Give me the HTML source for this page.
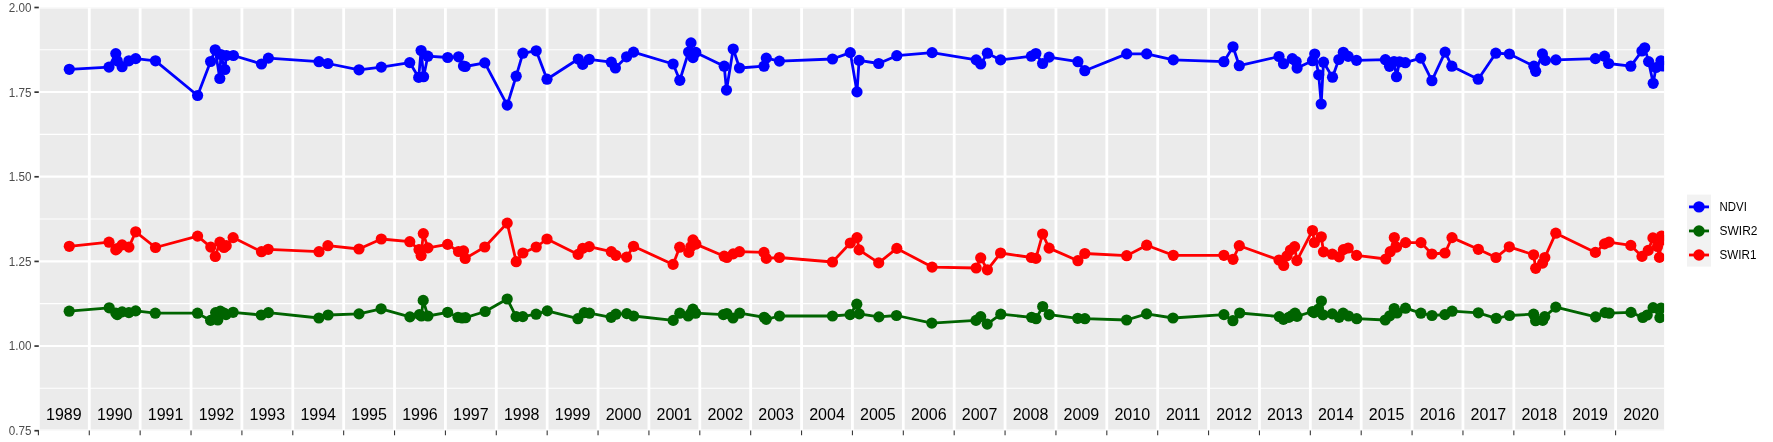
<!DOCTYPE html><html><head><meta charset="utf-8"><style>html,body{margin:0;padding:0;background:#fff;}svg{display:block}text{font-family:"Liberation Sans",sans-serif}</style></head><body><div style="will-change:transform">
<svg width="1773" height="442" viewBox="0 0 1773 442">
<rect x="0" y="0" width="1773" height="442" fill="#fff"/>
<rect x="38.0" y="7.4" width="1626.1" height="423.20000000000005" fill="#EBEBEB"/>
<clipPath id="cp"><rect x="38.0" y="7.4" width="1626.1" height="423.20000000000005"/></clipPath>
<g clip-path="url(#cp)">
<line x1="38.0" x2="1664.1" y1="49.72" y2="49.72" stroke="#fff" stroke-width="1.07"/>
<line x1="38.0" x2="1664.1" y1="134.36" y2="134.36" stroke="#fff" stroke-width="1.07"/>
<line x1="38.0" x2="1664.1" y1="219.00" y2="219.00" stroke="#fff" stroke-width="1.07"/>
<line x1="38.0" x2="1664.1" y1="303.64" y2="303.64" stroke="#fff" stroke-width="1.07"/>
<line x1="38.0" x2="1664.1" y1="388.28" y2="388.28" stroke="#fff" stroke-width="1.07"/>
<line x1="38.0" x2="1664.1" y1="7.40" y2="7.40" stroke="#fff" stroke-width="2.13"/>
<line x1="38.0" x2="1664.1" y1="92.04" y2="92.04" stroke="#fff" stroke-width="2.13"/>
<line x1="38.0" x2="1664.1" y1="176.68" y2="176.68" stroke="#fff" stroke-width="2.13"/>
<line x1="38.0" x2="1664.1" y1="261.32" y2="261.32" stroke="#fff" stroke-width="2.13"/>
<line x1="38.0" x2="1664.1" y1="345.96" y2="345.96" stroke="#fff" stroke-width="2.13"/>
<line x1="38.0" x2="1664.1" y1="430.60" y2="430.60" stroke="#fff" stroke-width="2.13"/>
<line x1="38.40" x2="38.40" y1="7.4" y2="430.6" stroke="#fff" stroke-width="2.8"/>
<line x1="89.28" x2="89.28" y1="7.4" y2="430.6" stroke="#fff" stroke-width="2.8"/>
<line x1="140.15" x2="140.15" y1="7.4" y2="430.6" stroke="#fff" stroke-width="2.8"/>
<line x1="191.03" x2="191.03" y1="7.4" y2="430.6" stroke="#fff" stroke-width="2.8"/>
<line x1="241.91" x2="241.91" y1="7.4" y2="430.6" stroke="#fff" stroke-width="2.8"/>
<line x1="292.79" x2="292.79" y1="7.4" y2="430.6" stroke="#fff" stroke-width="2.8"/>
<line x1="343.66" x2="343.66" y1="7.4" y2="430.6" stroke="#fff" stroke-width="2.8"/>
<line x1="394.54" x2="394.54" y1="7.4" y2="430.6" stroke="#fff" stroke-width="2.8"/>
<line x1="445.42" x2="445.42" y1="7.4" y2="430.6" stroke="#fff" stroke-width="2.8"/>
<line x1="496.29" x2="496.29" y1="7.4" y2="430.6" stroke="#fff" stroke-width="2.8"/>
<line x1="547.17" x2="547.17" y1="7.4" y2="430.6" stroke="#fff" stroke-width="2.8"/>
<line x1="598.05" x2="598.05" y1="7.4" y2="430.6" stroke="#fff" stroke-width="2.8"/>
<line x1="648.92" x2="648.92" y1="7.4" y2="430.6" stroke="#fff" stroke-width="2.8"/>
<line x1="699.80" x2="699.80" y1="7.4" y2="430.6" stroke="#fff" stroke-width="2.8"/>
<line x1="750.68" x2="750.68" y1="7.4" y2="430.6" stroke="#fff" stroke-width="2.8"/>
<line x1="801.56" x2="801.56" y1="7.4" y2="430.6" stroke="#fff" stroke-width="2.8"/>
<line x1="852.43" x2="852.43" y1="7.4" y2="430.6" stroke="#fff" stroke-width="2.8"/>
<line x1="903.31" x2="903.31" y1="7.4" y2="430.6" stroke="#fff" stroke-width="2.8"/>
<line x1="954.19" x2="954.19" y1="7.4" y2="430.6" stroke="#fff" stroke-width="2.8"/>
<line x1="1005.06" x2="1005.06" y1="7.4" y2="430.6" stroke="#fff" stroke-width="2.8"/>
<line x1="1055.94" x2="1055.94" y1="7.4" y2="430.6" stroke="#fff" stroke-width="2.8"/>
<line x1="1106.82" x2="1106.82" y1="7.4" y2="430.6" stroke="#fff" stroke-width="2.8"/>
<line x1="1157.69" x2="1157.69" y1="7.4" y2="430.6" stroke="#fff" stroke-width="2.8"/>
<line x1="1208.57" x2="1208.57" y1="7.4" y2="430.6" stroke="#fff" stroke-width="2.8"/>
<line x1="1259.45" x2="1259.45" y1="7.4" y2="430.6" stroke="#fff" stroke-width="2.8"/>
<line x1="1310.33" x2="1310.33" y1="7.4" y2="430.6" stroke="#fff" stroke-width="2.8"/>
<line x1="1361.20" x2="1361.20" y1="7.4" y2="430.6" stroke="#fff" stroke-width="2.8"/>
<line x1="1412.08" x2="1412.08" y1="7.4" y2="430.6" stroke="#fff" stroke-width="2.8"/>
<line x1="1462.96" x2="1462.96" y1="7.4" y2="430.6" stroke="#fff" stroke-width="2.8"/>
<line x1="1513.83" x2="1513.83" y1="7.4" y2="430.6" stroke="#fff" stroke-width="2.8"/>
<line x1="1564.71" x2="1564.71" y1="7.4" y2="430.6" stroke="#fff" stroke-width="2.8"/>
<line x1="1615.59" x2="1615.59" y1="7.4" y2="430.6" stroke="#fff" stroke-width="2.8"/>
<line x1="1666.46" x2="1666.46" y1="7.4" y2="430.6" stroke="#fff" stroke-width="2.8"/>
</g>
<line x1="34.4" x2="38.8" y1="7.50" y2="7.50" stroke="#333" stroke-width="1.7"/>
<text x="31.4" y="11.90" font-size="12.5" fill="#4D4D4D" text-anchor="end" textLength="22.7" lengthAdjust="spacingAndGlyphs">2.00</text>
<line x1="34.4" x2="38.8" y1="92.14" y2="92.14" stroke="#333" stroke-width="1.7"/>
<text x="31.4" y="96.54" font-size="12.5" fill="#4D4D4D" text-anchor="end" textLength="22.7" lengthAdjust="spacingAndGlyphs">1.75</text>
<line x1="34.4" x2="38.8" y1="176.78" y2="176.78" stroke="#333" stroke-width="1.7"/>
<text x="31.4" y="181.18" font-size="12.5" fill="#4D4D4D" text-anchor="end" textLength="22.7" lengthAdjust="spacingAndGlyphs">1.50</text>
<line x1="34.4" x2="38.8" y1="261.42" y2="261.42" stroke="#333" stroke-width="1.7"/>
<text x="31.4" y="265.82" font-size="12.5" fill="#4D4D4D" text-anchor="end" textLength="22.7" lengthAdjust="spacingAndGlyphs">1.25</text>
<line x1="34.4" x2="38.8" y1="346.06" y2="346.06" stroke="#333" stroke-width="1.7"/>
<text x="31.4" y="350.46" font-size="12.5" fill="#4D4D4D" text-anchor="end" textLength="22.7" lengthAdjust="spacingAndGlyphs">1.00</text>
<line x1="34.4" x2="38.8" y1="430.70" y2="430.70" stroke="#333" stroke-width="1.7"/>
<text x="31.4" y="435.10" font-size="12.5" fill="#4D4D4D" text-anchor="end" textLength="22.7" lengthAdjust="spacingAndGlyphs">0.75</text>
<line x1="38.40" x2="38.40" y1="430.6" y2="435.30" stroke="#333" stroke-width="1.07"/>
<line x1="89.28" x2="89.28" y1="430.6" y2="435.30" stroke="#333" stroke-width="1.07"/>
<line x1="140.15" x2="140.15" y1="430.6" y2="435.30" stroke="#333" stroke-width="1.07"/>
<line x1="191.03" x2="191.03" y1="430.6" y2="435.30" stroke="#333" stroke-width="1.07"/>
<line x1="241.91" x2="241.91" y1="430.6" y2="435.30" stroke="#333" stroke-width="1.07"/>
<line x1="292.79" x2="292.79" y1="430.6" y2="435.30" stroke="#333" stroke-width="1.07"/>
<line x1="343.66" x2="343.66" y1="430.6" y2="435.30" stroke="#333" stroke-width="1.07"/>
<line x1="394.54" x2="394.54" y1="430.6" y2="435.30" stroke="#333" stroke-width="1.07"/>
<line x1="445.42" x2="445.42" y1="430.6" y2="435.30" stroke="#333" stroke-width="1.07"/>
<line x1="496.29" x2="496.29" y1="430.6" y2="435.30" stroke="#333" stroke-width="1.07"/>
<line x1="547.17" x2="547.17" y1="430.6" y2="435.30" stroke="#333" stroke-width="1.07"/>
<line x1="598.05" x2="598.05" y1="430.6" y2="435.30" stroke="#333" stroke-width="1.07"/>
<line x1="648.92" x2="648.92" y1="430.6" y2="435.30" stroke="#333" stroke-width="1.07"/>
<line x1="699.80" x2="699.80" y1="430.6" y2="435.30" stroke="#333" stroke-width="1.07"/>
<line x1="750.68" x2="750.68" y1="430.6" y2="435.30" stroke="#333" stroke-width="1.07"/>
<line x1="801.56" x2="801.56" y1="430.6" y2="435.30" stroke="#333" stroke-width="1.07"/>
<line x1="852.43" x2="852.43" y1="430.6" y2="435.30" stroke="#333" stroke-width="1.07"/>
<line x1="903.31" x2="903.31" y1="430.6" y2="435.30" stroke="#333" stroke-width="1.07"/>
<line x1="954.19" x2="954.19" y1="430.6" y2="435.30" stroke="#333" stroke-width="1.07"/>
<line x1="1005.06" x2="1005.06" y1="430.6" y2="435.30" stroke="#333" stroke-width="1.07"/>
<line x1="1055.94" x2="1055.94" y1="430.6" y2="435.30" stroke="#333" stroke-width="1.07"/>
<line x1="1106.82" x2="1106.82" y1="430.6" y2="435.30" stroke="#333" stroke-width="1.07"/>
<line x1="1157.69" x2="1157.69" y1="430.6" y2="435.30" stroke="#333" stroke-width="1.07"/>
<line x1="1208.57" x2="1208.57" y1="430.6" y2="435.30" stroke="#333" stroke-width="1.07"/>
<line x1="1259.45" x2="1259.45" y1="430.6" y2="435.30" stroke="#333" stroke-width="1.07"/>
<line x1="1310.33" x2="1310.33" y1="430.6" y2="435.30" stroke="#333" stroke-width="1.07"/>
<line x1="1361.20" x2="1361.20" y1="430.6" y2="435.30" stroke="#333" stroke-width="1.07"/>
<line x1="1412.08" x2="1412.08" y1="430.6" y2="435.30" stroke="#333" stroke-width="1.07"/>
<line x1="1462.96" x2="1462.96" y1="430.6" y2="435.30" stroke="#333" stroke-width="1.07"/>
<line x1="1513.83" x2="1513.83" y1="430.6" y2="435.30" stroke="#333" stroke-width="1.07"/>
<line x1="1564.71" x2="1564.71" y1="430.6" y2="435.30" stroke="#333" stroke-width="1.07"/>
<line x1="1615.59" x2="1615.59" y1="430.6" y2="435.30" stroke="#333" stroke-width="1.07"/>
<text x="63.84" y="420" font-size="16" fill="#000" text-anchor="middle">1989</text>
<text x="114.72" y="420" font-size="16" fill="#000" text-anchor="middle">1990</text>
<text x="165.59" y="420" font-size="16" fill="#000" text-anchor="middle">1991</text>
<text x="216.47" y="420" font-size="16" fill="#000" text-anchor="middle">1992</text>
<text x="267.35" y="420" font-size="16" fill="#000" text-anchor="middle">1993</text>
<text x="318.22" y="420" font-size="16" fill="#000" text-anchor="middle">1994</text>
<text x="369.10" y="420" font-size="16" fill="#000" text-anchor="middle">1995</text>
<text x="419.98" y="420" font-size="16" fill="#000" text-anchor="middle">1996</text>
<text x="470.85" y="420" font-size="16" fill="#000" text-anchor="middle">1997</text>
<text x="521.73" y="420" font-size="16" fill="#000" text-anchor="middle">1998</text>
<text x="572.61" y="420" font-size="16" fill="#000" text-anchor="middle">1999</text>
<text x="623.49" y="420" font-size="16" fill="#000" text-anchor="middle">2000</text>
<text x="674.36" y="420" font-size="16" fill="#000" text-anchor="middle">2001</text>
<text x="725.24" y="420" font-size="16" fill="#000" text-anchor="middle">2002</text>
<text x="776.12" y="420" font-size="16" fill="#000" text-anchor="middle">2003</text>
<text x="826.99" y="420" font-size="16" fill="#000" text-anchor="middle">2004</text>
<text x="877.87" y="420" font-size="16" fill="#000" text-anchor="middle">2005</text>
<text x="928.75" y="420" font-size="16" fill="#000" text-anchor="middle">2006</text>
<text x="979.62" y="420" font-size="16" fill="#000" text-anchor="middle">2007</text>
<text x="1030.50" y="420" font-size="16" fill="#000" text-anchor="middle">2008</text>
<text x="1081.38" y="420" font-size="16" fill="#000" text-anchor="middle">2009</text>
<text x="1132.26" y="420" font-size="16" fill="#000" text-anchor="middle">2010</text>
<text x="1183.13" y="420" font-size="16" fill="#000" text-anchor="middle">2011</text>
<text x="1234.01" y="420" font-size="16" fill="#000" text-anchor="middle">2012</text>
<text x="1284.89" y="420" font-size="16" fill="#000" text-anchor="middle">2013</text>
<text x="1335.76" y="420" font-size="16" fill="#000" text-anchor="middle">2014</text>
<text x="1386.64" y="420" font-size="16" fill="#000" text-anchor="middle">2015</text>
<text x="1437.52" y="420" font-size="16" fill="#000" text-anchor="middle">2016</text>
<text x="1488.39" y="420" font-size="16" fill="#000" text-anchor="middle">2017</text>
<text x="1539.27" y="420" font-size="16" fill="#000" text-anchor="middle">2018</text>
<text x="1590.15" y="420" font-size="16" fill="#000" text-anchor="middle">2019</text>
<text x="1641.03" y="420" font-size="16" fill="#000" text-anchor="middle">2020</text>
<g clip-path="url(#cp)"><polyline points="69.2,311.2 109.2,307.8 115.8,313.0 117.3,314.6 122.1,311.9 128.9,312.6 135.7,310.9 155.3,313.2 197.5,313.2 210.6,320.4 215.6,312.6 217.8,320.0 220.3,311.2 224.0,313.0 226.0,314.6 233.1,312.3 261.2,315.0 268.4,312.6 318.9,318.0 328.1,315.0 359.0,313.9 381.1,308.8 409.9,316.9 419.4,314.6 421.4,316.0 423.2,300.4 427.9,316.0 447.6,312.3 458.0,317.3 462.1,318.0 465.5,317.7 485.2,311.5 507.2,299.0 516.1,316.6 522.8,316.6 536.1,314.2 547.3,310.9 577.9,318.7 584.3,312.6 589.5,313.2 611.2,317.3 615.9,314.2 626.8,313.6 633.6,316.0 673.2,320.4 679.8,313.2 688.2,316.0 691.0,313.0 692.9,309.2 695.6,313.2 723.4,314.6 726.8,313.5 733.0,318.0 739.7,313.2 764.2,317.3 766.2,319.3 779.5,316.0 832.5,316.0 850.1,314.6 856.8,304.2 859.2,313.9 878.9,316.9 896.5,315.5 931.8,323.1 976.0,320.4 980.7,316.6 987.2,324.1 1000.8,314.2 1031.6,317.3 1036.1,318.7 1042.7,306.5 1049.2,314.6 1077.7,318.3 1084.9,318.7 1126.6,320.0 1146.6,313.9 1173.0,318.0 1223.9,314.6 1232.9,320.7 1239.7,313.0 1279.3,316.6 1283.4,319.3 1288.8,317.3 1292.0,315.5 1295.0,313.2 1297.0,316.4 1312.5,311.5 1314.0,312.6 1318.5,309.0 1321.4,301.0 1323.0,314.8 1332.3,313.9 1339.1,317.3 1343.1,313.2 1348.5,316.0 1356.7,318.7 1385.2,320.0 1389.8,315.8 1394.2,308.5 1397.0,313.0 1405.5,308.2 1420.9,313.2 1432.0,315.5 1444.9,314.6 1452.1,311.2 1478.3,312.8 1496.2,318.3 1509.5,315.5 1533.6,314.2 1535.6,320.7 1542.7,320.4 1544.7,316.6 1555.8,307.1 1595.6,316.9 1605.1,312.6 1609.2,313.2 1631.0,312.4 1642.8,317.5 1647.2,315.0 1653.1,307.7 1659.9,317.6 1661.1,308.0" fill="none" stroke="#006400" stroke-width="2.8" stroke-linejoin="round"/><circle cx="69.2" cy="311.2" r="5.6" fill="#006400"/><circle cx="109.2" cy="307.8" r="5.6" fill="#006400"/><circle cx="115.8" cy="313.0" r="5.6" fill="#006400"/><circle cx="117.3" cy="314.6" r="5.6" fill="#006400"/><circle cx="122.1" cy="311.9" r="5.6" fill="#006400"/><circle cx="128.9" cy="312.6" r="5.6" fill="#006400"/><circle cx="135.7" cy="310.9" r="5.6" fill="#006400"/><circle cx="155.3" cy="313.2" r="5.6" fill="#006400"/><circle cx="197.5" cy="313.2" r="5.6" fill="#006400"/><circle cx="210.6" cy="320.4" r="5.6" fill="#006400"/><circle cx="215.6" cy="312.6" r="5.6" fill="#006400"/><circle cx="217.8" cy="320.0" r="5.6" fill="#006400"/><circle cx="220.3" cy="311.2" r="5.6" fill="#006400"/><circle cx="224.0" cy="313.0" r="5.6" fill="#006400"/><circle cx="226.0" cy="314.6" r="5.6" fill="#006400"/><circle cx="233.1" cy="312.3" r="5.6" fill="#006400"/><circle cx="261.2" cy="315.0" r="5.6" fill="#006400"/><circle cx="268.4" cy="312.6" r="5.6" fill="#006400"/><circle cx="318.9" cy="318.0" r="5.6" fill="#006400"/><circle cx="328.1" cy="315.0" r="5.6" fill="#006400"/><circle cx="359.0" cy="313.9" r="5.6" fill="#006400"/><circle cx="381.1" cy="308.8" r="5.6" fill="#006400"/><circle cx="409.9" cy="316.9" r="5.6" fill="#006400"/><circle cx="419.4" cy="314.6" r="5.6" fill="#006400"/><circle cx="421.4" cy="316.0" r="5.6" fill="#006400"/><circle cx="423.2" cy="300.4" r="5.6" fill="#006400"/><circle cx="427.9" cy="316.0" r="5.6" fill="#006400"/><circle cx="447.6" cy="312.3" r="5.6" fill="#006400"/><circle cx="458.0" cy="317.3" r="5.6" fill="#006400"/><circle cx="462.1" cy="318.0" r="5.6" fill="#006400"/><circle cx="465.5" cy="317.7" r="5.6" fill="#006400"/><circle cx="485.2" cy="311.5" r="5.6" fill="#006400"/><circle cx="507.2" cy="299.0" r="5.6" fill="#006400"/><circle cx="516.1" cy="316.6" r="5.6" fill="#006400"/><circle cx="522.8" cy="316.6" r="5.6" fill="#006400"/><circle cx="536.1" cy="314.2" r="5.6" fill="#006400"/><circle cx="547.3" cy="310.9" r="5.6" fill="#006400"/><circle cx="577.9" cy="318.7" r="5.6" fill="#006400"/><circle cx="584.3" cy="312.6" r="5.6" fill="#006400"/><circle cx="589.5" cy="313.2" r="5.6" fill="#006400"/><circle cx="611.2" cy="317.3" r="5.6" fill="#006400"/><circle cx="615.9" cy="314.2" r="5.6" fill="#006400"/><circle cx="626.8" cy="313.6" r="5.6" fill="#006400"/><circle cx="633.6" cy="316.0" r="5.6" fill="#006400"/><circle cx="673.2" cy="320.4" r="5.6" fill="#006400"/><circle cx="679.8" cy="313.2" r="5.6" fill="#006400"/><circle cx="688.2" cy="316.0" r="5.6" fill="#006400"/><circle cx="691.0" cy="313.0" r="5.6" fill="#006400"/><circle cx="692.9" cy="309.2" r="5.6" fill="#006400"/><circle cx="695.6" cy="313.2" r="5.6" fill="#006400"/><circle cx="723.4" cy="314.6" r="5.6" fill="#006400"/><circle cx="726.8" cy="313.5" r="5.6" fill="#006400"/><circle cx="733.0" cy="318.0" r="5.6" fill="#006400"/><circle cx="739.7" cy="313.2" r="5.6" fill="#006400"/><circle cx="764.2" cy="317.3" r="5.6" fill="#006400"/><circle cx="766.2" cy="319.3" r="5.6" fill="#006400"/><circle cx="779.5" cy="316.0" r="5.6" fill="#006400"/><circle cx="832.5" cy="316.0" r="5.6" fill="#006400"/><circle cx="850.1" cy="314.6" r="5.6" fill="#006400"/><circle cx="856.8" cy="304.2" r="5.6" fill="#006400"/><circle cx="859.2" cy="313.9" r="5.6" fill="#006400"/><circle cx="878.9" cy="316.9" r="5.6" fill="#006400"/><circle cx="896.5" cy="315.5" r="5.6" fill="#006400"/><circle cx="931.8" cy="323.1" r="5.6" fill="#006400"/><circle cx="976.0" cy="320.4" r="5.6" fill="#006400"/><circle cx="980.7" cy="316.6" r="5.6" fill="#006400"/><circle cx="987.2" cy="324.1" r="5.6" fill="#006400"/><circle cx="1000.8" cy="314.2" r="5.6" fill="#006400"/><circle cx="1031.6" cy="317.3" r="5.6" fill="#006400"/><circle cx="1036.1" cy="318.7" r="5.6" fill="#006400"/><circle cx="1042.7" cy="306.5" r="5.6" fill="#006400"/><circle cx="1049.2" cy="314.6" r="5.6" fill="#006400"/><circle cx="1077.7" cy="318.3" r="5.6" fill="#006400"/><circle cx="1084.9" cy="318.7" r="5.6" fill="#006400"/><circle cx="1126.6" cy="320.0" r="5.6" fill="#006400"/><circle cx="1146.6" cy="313.9" r="5.6" fill="#006400"/><circle cx="1173.0" cy="318.0" r="5.6" fill="#006400"/><circle cx="1223.9" cy="314.6" r="5.6" fill="#006400"/><circle cx="1232.9" cy="320.7" r="5.6" fill="#006400"/><circle cx="1239.7" cy="313.0" r="5.6" fill="#006400"/><circle cx="1279.3" cy="316.6" r="5.6" fill="#006400"/><circle cx="1283.4" cy="319.3" r="5.6" fill="#006400"/><circle cx="1288.8" cy="317.3" r="5.6" fill="#006400"/><circle cx="1292.0" cy="315.5" r="5.6" fill="#006400"/><circle cx="1295.0" cy="313.2" r="5.6" fill="#006400"/><circle cx="1297.0" cy="316.4" r="5.6" fill="#006400"/><circle cx="1312.5" cy="311.5" r="5.6" fill="#006400"/><circle cx="1314.0" cy="312.6" r="5.6" fill="#006400"/><circle cx="1318.5" cy="309.0" r="5.6" fill="#006400"/><circle cx="1321.4" cy="301.0" r="5.6" fill="#006400"/><circle cx="1323.0" cy="314.8" r="5.6" fill="#006400"/><circle cx="1332.3" cy="313.9" r="5.6" fill="#006400"/><circle cx="1339.1" cy="317.3" r="5.6" fill="#006400"/><circle cx="1343.1" cy="313.2" r="5.6" fill="#006400"/><circle cx="1348.5" cy="316.0" r="5.6" fill="#006400"/><circle cx="1356.7" cy="318.7" r="5.6" fill="#006400"/><circle cx="1385.2" cy="320.0" r="5.6" fill="#006400"/><circle cx="1389.8" cy="315.8" r="5.6" fill="#006400"/><circle cx="1394.2" cy="308.5" r="5.6" fill="#006400"/><circle cx="1397.0" cy="313.0" r="5.6" fill="#006400"/><circle cx="1405.5" cy="308.2" r="5.6" fill="#006400"/><circle cx="1420.9" cy="313.2" r="5.6" fill="#006400"/><circle cx="1432.0" cy="315.5" r="5.6" fill="#006400"/><circle cx="1444.9" cy="314.6" r="5.6" fill="#006400"/><circle cx="1452.1" cy="311.2" r="5.6" fill="#006400"/><circle cx="1478.3" cy="312.8" r="5.6" fill="#006400"/><circle cx="1496.2" cy="318.3" r="5.6" fill="#006400"/><circle cx="1509.5" cy="315.5" r="5.6" fill="#006400"/><circle cx="1533.6" cy="314.2" r="5.6" fill="#006400"/><circle cx="1535.6" cy="320.7" r="5.6" fill="#006400"/><circle cx="1542.7" cy="320.4" r="5.6" fill="#006400"/><circle cx="1544.7" cy="316.6" r="5.6" fill="#006400"/><circle cx="1555.8" cy="307.1" r="5.6" fill="#006400"/><circle cx="1595.6" cy="316.9" r="5.6" fill="#006400"/><circle cx="1605.1" cy="312.6" r="5.6" fill="#006400"/><circle cx="1609.2" cy="313.2" r="5.6" fill="#006400"/><circle cx="1631.0" cy="312.4" r="5.6" fill="#006400"/><circle cx="1642.8" cy="317.5" r="5.6" fill="#006400"/><circle cx="1647.2" cy="315.0" r="5.6" fill="#006400"/><circle cx="1653.1" cy="307.7" r="5.6" fill="#006400"/><circle cx="1659.9" cy="317.6" r="5.6" fill="#006400"/><circle cx="1661.1" cy="308.0" r="5.6" fill="#006400"/><polyline points="69.3,246.3 109.0,242.2 115.8,249.9 117.2,248.5 122.1,244.9 128.9,247.1 135.7,231.8 155.5,247.5 197.6,236.1 210.8,247.1 215.3,256.5 219.9,242.1 224.0,247.5 226.2,245.7 233.1,237.6 261.5,251.7 268.2,249.3 319.0,251.7 327.9,245.7 359.0,249.0 381.3,239.0 409.8,241.7 419.0,249.6 421.1,255.6 423.3,233.6 427.9,247.9 447.6,244.4 458.5,251.5 463.5,250.9 465.2,258.5 484.8,247.0 507.2,223.1 516.2,261.7 522.9,253.0 536.2,247.0 547.0,239.0 578.1,254.4 582.7,248.4 589.2,246.6 611.3,251.7 615.8,255.3 626.6,257.1 633.5,246.3 673.1,264.4 679.7,247.2 688.8,252.4 690.8,246.8 693.0,239.9 695.9,244.1 724.2,256.2 726.9,257.5 733.2,253.9 739.5,251.7 764.0,252.4 766.3,258.4 779.4,257.5 832.5,262.0 850.3,243.0 857.0,237.6 859.1,249.9 878.7,262.9 896.8,248.4 932.1,267.1 976.2,268.0 980.7,257.9 987.4,269.8 1000.6,253.0 1031.4,257.5 1035.9,258.4 1042.6,234.0 1049.1,248.1 1077.9,260.7 1084.8,253.5 1126.7,255.7 1146.7,245.2 1173.3,255.3 1223.9,255.3 1233.0,259.3 1239.3,245.7 1279.0,260.0 1283.7,265.5 1287.0,255.9 1290.5,250.0 1294.6,246.7 1296.9,260.6 1312.5,230.5 1314.4,242.5 1321.3,236.8 1323.5,251.8 1332.3,254.2 1339.1,256.9 1343.4,249.6 1348.2,248.0 1356.6,255.4 1385.8,259.0 1390.2,251.7 1394.3,237.5 1396.6,247.1 1405.6,242.6 1421.0,242.6 1431.9,254.0 1445.0,253.0 1452.0,237.6 1478.3,249.3 1496.0,257.5 1509.3,246.8 1533.6,254.8 1535.7,268.3 1542.6,263.1 1544.8,257.5 1555.8,233.2 1595.4,252.4 1604.5,243.9 1609.0,242.1 1630.8,245.4 1642.0,256.4 1648.2,250.4 1652.9,237.9 1657.5,246.5 1659.5,257.4 1661.4,236.2 1662.5,240.0" fill="none" stroke="#FF0000" stroke-width="2.8" stroke-linejoin="round"/><circle cx="69.3" cy="246.3" r="5.6" fill="#FF0000"/><circle cx="109.0" cy="242.2" r="5.6" fill="#FF0000"/><circle cx="115.8" cy="249.9" r="5.6" fill="#FF0000"/><circle cx="117.2" cy="248.5" r="5.6" fill="#FF0000"/><circle cx="122.1" cy="244.9" r="5.6" fill="#FF0000"/><circle cx="128.9" cy="247.1" r="5.6" fill="#FF0000"/><circle cx="135.7" cy="231.8" r="5.6" fill="#FF0000"/><circle cx="155.5" cy="247.5" r="5.6" fill="#FF0000"/><circle cx="197.6" cy="236.1" r="5.6" fill="#FF0000"/><circle cx="210.8" cy="247.1" r="5.6" fill="#FF0000"/><circle cx="215.3" cy="256.5" r="5.6" fill="#FF0000"/><circle cx="219.9" cy="242.1" r="5.6" fill="#FF0000"/><circle cx="224.0" cy="247.5" r="5.6" fill="#FF0000"/><circle cx="226.2" cy="245.7" r="5.6" fill="#FF0000"/><circle cx="233.1" cy="237.6" r="5.6" fill="#FF0000"/><circle cx="261.5" cy="251.7" r="5.6" fill="#FF0000"/><circle cx="268.2" cy="249.3" r="5.6" fill="#FF0000"/><circle cx="319.0" cy="251.7" r="5.6" fill="#FF0000"/><circle cx="327.9" cy="245.7" r="5.6" fill="#FF0000"/><circle cx="359.0" cy="249.0" r="5.6" fill="#FF0000"/><circle cx="381.3" cy="239.0" r="5.6" fill="#FF0000"/><circle cx="409.8" cy="241.7" r="5.6" fill="#FF0000"/><circle cx="419.0" cy="249.6" r="5.6" fill="#FF0000"/><circle cx="421.1" cy="255.6" r="5.6" fill="#FF0000"/><circle cx="423.3" cy="233.6" r="5.6" fill="#FF0000"/><circle cx="427.9" cy="247.9" r="5.6" fill="#FF0000"/><circle cx="447.6" cy="244.4" r="5.6" fill="#FF0000"/><circle cx="458.5" cy="251.5" r="5.6" fill="#FF0000"/><circle cx="463.5" cy="250.9" r="5.6" fill="#FF0000"/><circle cx="465.2" cy="258.5" r="5.6" fill="#FF0000"/><circle cx="484.8" cy="247.0" r="5.6" fill="#FF0000"/><circle cx="507.2" cy="223.1" r="5.6" fill="#FF0000"/><circle cx="516.2" cy="261.7" r="5.6" fill="#FF0000"/><circle cx="522.9" cy="253.0" r="5.6" fill="#FF0000"/><circle cx="536.2" cy="247.0" r="5.6" fill="#FF0000"/><circle cx="547.0" cy="239.0" r="5.6" fill="#FF0000"/><circle cx="578.1" cy="254.4" r="5.6" fill="#FF0000"/><circle cx="582.7" cy="248.4" r="5.6" fill="#FF0000"/><circle cx="589.2" cy="246.6" r="5.6" fill="#FF0000"/><circle cx="611.3" cy="251.7" r="5.6" fill="#FF0000"/><circle cx="615.8" cy="255.3" r="5.6" fill="#FF0000"/><circle cx="626.6" cy="257.1" r="5.6" fill="#FF0000"/><circle cx="633.5" cy="246.3" r="5.6" fill="#FF0000"/><circle cx="673.1" cy="264.4" r="5.6" fill="#FF0000"/><circle cx="679.7" cy="247.2" r="5.6" fill="#FF0000"/><circle cx="688.8" cy="252.4" r="5.6" fill="#FF0000"/><circle cx="690.8" cy="246.8" r="5.6" fill="#FF0000"/><circle cx="693.0" cy="239.9" r="5.6" fill="#FF0000"/><circle cx="695.9" cy="244.1" r="5.6" fill="#FF0000"/><circle cx="724.2" cy="256.2" r="5.6" fill="#FF0000"/><circle cx="726.9" cy="257.5" r="5.6" fill="#FF0000"/><circle cx="733.2" cy="253.9" r="5.6" fill="#FF0000"/><circle cx="739.5" cy="251.7" r="5.6" fill="#FF0000"/><circle cx="764.0" cy="252.4" r="5.6" fill="#FF0000"/><circle cx="766.3" cy="258.4" r="5.6" fill="#FF0000"/><circle cx="779.4" cy="257.5" r="5.6" fill="#FF0000"/><circle cx="832.5" cy="262.0" r="5.6" fill="#FF0000"/><circle cx="850.3" cy="243.0" r="5.6" fill="#FF0000"/><circle cx="857.0" cy="237.6" r="5.6" fill="#FF0000"/><circle cx="859.1" cy="249.9" r="5.6" fill="#FF0000"/><circle cx="878.7" cy="262.9" r="5.6" fill="#FF0000"/><circle cx="896.8" cy="248.4" r="5.6" fill="#FF0000"/><circle cx="932.1" cy="267.1" r="5.6" fill="#FF0000"/><circle cx="976.2" cy="268.0" r="5.6" fill="#FF0000"/><circle cx="980.7" cy="257.9" r="5.6" fill="#FF0000"/><circle cx="987.4" cy="269.8" r="5.6" fill="#FF0000"/><circle cx="1000.6" cy="253.0" r="5.6" fill="#FF0000"/><circle cx="1031.4" cy="257.5" r="5.6" fill="#FF0000"/><circle cx="1035.9" cy="258.4" r="5.6" fill="#FF0000"/><circle cx="1042.6" cy="234.0" r="5.6" fill="#FF0000"/><circle cx="1049.1" cy="248.1" r="5.6" fill="#FF0000"/><circle cx="1077.9" cy="260.7" r="5.6" fill="#FF0000"/><circle cx="1084.8" cy="253.5" r="5.6" fill="#FF0000"/><circle cx="1126.7" cy="255.7" r="5.6" fill="#FF0000"/><circle cx="1146.7" cy="245.2" r="5.6" fill="#FF0000"/><circle cx="1173.3" cy="255.3" r="5.6" fill="#FF0000"/><circle cx="1223.9" cy="255.3" r="5.6" fill="#FF0000"/><circle cx="1233.0" cy="259.3" r="5.6" fill="#FF0000"/><circle cx="1239.3" cy="245.7" r="5.6" fill="#FF0000"/><circle cx="1279.0" cy="260.0" r="5.6" fill="#FF0000"/><circle cx="1283.7" cy="265.5" r="5.6" fill="#FF0000"/><circle cx="1287.0" cy="255.9" r="5.6" fill="#FF0000"/><circle cx="1290.5" cy="250.0" r="5.6" fill="#FF0000"/><circle cx="1294.6" cy="246.7" r="5.6" fill="#FF0000"/><circle cx="1296.9" cy="260.6" r="5.6" fill="#FF0000"/><circle cx="1312.5" cy="230.5" r="5.6" fill="#FF0000"/><circle cx="1314.4" cy="242.5" r="5.6" fill="#FF0000"/><circle cx="1321.3" cy="236.8" r="5.6" fill="#FF0000"/><circle cx="1323.5" cy="251.8" r="5.6" fill="#FF0000"/><circle cx="1332.3" cy="254.2" r="5.6" fill="#FF0000"/><circle cx="1339.1" cy="256.9" r="5.6" fill="#FF0000"/><circle cx="1343.4" cy="249.6" r="5.6" fill="#FF0000"/><circle cx="1348.2" cy="248.0" r="5.6" fill="#FF0000"/><circle cx="1356.6" cy="255.4" r="5.6" fill="#FF0000"/><circle cx="1385.8" cy="259.0" r="5.6" fill="#FF0000"/><circle cx="1390.2" cy="251.7" r="5.6" fill="#FF0000"/><circle cx="1394.3" cy="237.5" r="5.6" fill="#FF0000"/><circle cx="1396.6" cy="247.1" r="5.6" fill="#FF0000"/><circle cx="1405.6" cy="242.6" r="5.6" fill="#FF0000"/><circle cx="1421.0" cy="242.6" r="5.6" fill="#FF0000"/><circle cx="1431.9" cy="254.0" r="5.6" fill="#FF0000"/><circle cx="1445.0" cy="253.0" r="5.6" fill="#FF0000"/><circle cx="1452.0" cy="237.6" r="5.6" fill="#FF0000"/><circle cx="1478.3" cy="249.3" r="5.6" fill="#FF0000"/><circle cx="1496.0" cy="257.5" r="5.6" fill="#FF0000"/><circle cx="1509.3" cy="246.8" r="5.6" fill="#FF0000"/><circle cx="1533.6" cy="254.8" r="5.6" fill="#FF0000"/><circle cx="1535.7" cy="268.3" r="5.6" fill="#FF0000"/><circle cx="1542.6" cy="263.1" r="5.6" fill="#FF0000"/><circle cx="1544.8" cy="257.5" r="5.6" fill="#FF0000"/><circle cx="1555.8" cy="233.2" r="5.6" fill="#FF0000"/><circle cx="1595.4" cy="252.4" r="5.6" fill="#FF0000"/><circle cx="1604.5" cy="243.9" r="5.6" fill="#FF0000"/><circle cx="1609.0" cy="242.1" r="5.6" fill="#FF0000"/><circle cx="1630.8" cy="245.4" r="5.6" fill="#FF0000"/><circle cx="1642.0" cy="256.4" r="5.6" fill="#FF0000"/><circle cx="1648.2" cy="250.4" r="5.6" fill="#FF0000"/><circle cx="1652.9" cy="237.9" r="5.6" fill="#FF0000"/><circle cx="1657.5" cy="246.5" r="5.6" fill="#FF0000"/><circle cx="1659.5" cy="257.4" r="5.6" fill="#FF0000"/><circle cx="1661.4" cy="236.2" r="5.6" fill="#FF0000"/><circle cx="1662.5" cy="240.0" r="5.6" fill="#FF0000"/><polyline points="69.3,69.3 109.0,67.1 115.8,53.6 117.2,60.8 122.1,66.7 128.9,60.8 135.7,58.6 155.5,60.8 197.6,95.5 210.6,61.5 215.2,49.8 219.8,78.5 220.8,54.5 224.9,69.5 226.4,55.5 233.4,55.5 261.5,64.0 268.4,58.1 319.0,61.7 327.9,63.5 359.0,69.8 381.3,67.1 409.7,62.6 418.7,77.4 421.1,50.5 423.6,76.7 427.8,56.2 447.7,57.5 458.6,56.8 463.5,66.0 465.2,66.5 484.8,62.9 507.2,105.1 516.2,76.2 522.9,53.2 536.2,50.8 547.0,79.2 578.3,59.0 582.7,64.4 589.2,59.3 611.3,62.2 615.4,68.0 626.6,56.8 633.5,52.1 673.1,64.0 679.8,80.3 688.6,52.0 691.0,42.9 693.0,57.6 695.8,52.4 724.2,66.2 726.5,90.1 733.2,49.0 739.5,68.0 764.0,66.2 766.3,58.1 779.4,61.1 832.5,59.0 850.3,52.6 857.0,91.9 859.1,60.4 878.7,63.5 896.8,55.7 932.1,52.6 976.2,59.9 980.7,64.0 987.4,53.2 1000.6,59.9 1031.4,56.2 1035.9,53.5 1042.6,63.5 1049.1,57.1 1077.9,61.7 1084.8,70.7 1126.7,53.9 1146.7,53.9 1173.3,59.9 1223.9,61.7 1233.0,46.8 1239.3,65.7 1279.0,56.5 1283.5,63.7 1292.3,58.7 1296.1,61.5 1297.1,68.1 1312.5,60.7 1314.7,54.0 1318.7,74.8 1321.2,104.0 1323.5,62.2 1332.5,77.2 1338.8,59.5 1343.3,52.3 1348.2,56.4 1356.5,60.3 1385.4,59.7 1389.5,66.3 1394.0,61.5 1396.5,76.7 1399.5,61.8 1405.3,62.7 1420.7,58.1 1431.9,80.7 1445.1,52.1 1451.8,66.2 1478.2,79.2 1495.8,53.2 1509.4,54.0 1533.9,66.2 1535.7,71.3 1542.4,53.9 1545.3,60.4 1555.9,59.9 1595.4,58.6 1604.5,56.2 1608.6,63.5 1630.8,66.2 1641.9,51.0 1644.7,47.8 1648.6,61.6 1653.2,83.3 1656.0,67.5 1661.0,60.8 1662.5,66.0" fill="none" stroke="#0000FF" stroke-width="2.8" stroke-linejoin="round"/><circle cx="69.3" cy="69.3" r="5.6" fill="#0000FF"/><circle cx="109.0" cy="67.1" r="5.6" fill="#0000FF"/><circle cx="115.8" cy="53.6" r="5.6" fill="#0000FF"/><circle cx="117.2" cy="60.8" r="5.6" fill="#0000FF"/><circle cx="122.1" cy="66.7" r="5.6" fill="#0000FF"/><circle cx="128.9" cy="60.8" r="5.6" fill="#0000FF"/><circle cx="135.7" cy="58.6" r="5.6" fill="#0000FF"/><circle cx="155.5" cy="60.8" r="5.6" fill="#0000FF"/><circle cx="197.6" cy="95.5" r="5.6" fill="#0000FF"/><circle cx="210.6" cy="61.5" r="5.6" fill="#0000FF"/><circle cx="215.2" cy="49.8" r="5.6" fill="#0000FF"/><circle cx="219.8" cy="78.5" r="5.6" fill="#0000FF"/><circle cx="220.8" cy="54.5" r="5.6" fill="#0000FF"/><circle cx="224.9" cy="69.5" r="5.6" fill="#0000FF"/><circle cx="226.4" cy="55.5" r="5.6" fill="#0000FF"/><circle cx="233.4" cy="55.5" r="5.6" fill="#0000FF"/><circle cx="261.5" cy="64.0" r="5.6" fill="#0000FF"/><circle cx="268.4" cy="58.1" r="5.6" fill="#0000FF"/><circle cx="319.0" cy="61.7" r="5.6" fill="#0000FF"/><circle cx="327.9" cy="63.5" r="5.6" fill="#0000FF"/><circle cx="359.0" cy="69.8" r="5.6" fill="#0000FF"/><circle cx="381.3" cy="67.1" r="5.6" fill="#0000FF"/><circle cx="409.7" cy="62.6" r="5.6" fill="#0000FF"/><circle cx="418.7" cy="77.4" r="5.6" fill="#0000FF"/><circle cx="421.1" cy="50.5" r="5.6" fill="#0000FF"/><circle cx="423.6" cy="76.7" r="5.6" fill="#0000FF"/><circle cx="427.8" cy="56.2" r="5.6" fill="#0000FF"/><circle cx="447.7" cy="57.5" r="5.6" fill="#0000FF"/><circle cx="458.6" cy="56.8" r="5.6" fill="#0000FF"/><circle cx="463.5" cy="66.0" r="5.6" fill="#0000FF"/><circle cx="465.2" cy="66.5" r="5.6" fill="#0000FF"/><circle cx="484.8" cy="62.9" r="5.6" fill="#0000FF"/><circle cx="507.2" cy="105.1" r="5.6" fill="#0000FF"/><circle cx="516.2" cy="76.2" r="5.6" fill="#0000FF"/><circle cx="522.9" cy="53.2" r="5.6" fill="#0000FF"/><circle cx="536.2" cy="50.8" r="5.6" fill="#0000FF"/><circle cx="547.0" cy="79.2" r="5.6" fill="#0000FF"/><circle cx="578.3" cy="59.0" r="5.6" fill="#0000FF"/><circle cx="582.7" cy="64.4" r="5.6" fill="#0000FF"/><circle cx="589.2" cy="59.3" r="5.6" fill="#0000FF"/><circle cx="611.3" cy="62.2" r="5.6" fill="#0000FF"/><circle cx="615.4" cy="68.0" r="5.6" fill="#0000FF"/><circle cx="626.6" cy="56.8" r="5.6" fill="#0000FF"/><circle cx="633.5" cy="52.1" r="5.6" fill="#0000FF"/><circle cx="673.1" cy="64.0" r="5.6" fill="#0000FF"/><circle cx="679.8" cy="80.3" r="5.6" fill="#0000FF"/><circle cx="688.6" cy="52.0" r="5.6" fill="#0000FF"/><circle cx="691.0" cy="42.9" r="5.6" fill="#0000FF"/><circle cx="693.0" cy="57.6" r="5.6" fill="#0000FF"/><circle cx="695.8" cy="52.4" r="5.6" fill="#0000FF"/><circle cx="724.2" cy="66.2" r="5.6" fill="#0000FF"/><circle cx="726.5" cy="90.1" r="5.6" fill="#0000FF"/><circle cx="733.2" cy="49.0" r="5.6" fill="#0000FF"/><circle cx="739.5" cy="68.0" r="5.6" fill="#0000FF"/><circle cx="764.0" cy="66.2" r="5.6" fill="#0000FF"/><circle cx="766.3" cy="58.1" r="5.6" fill="#0000FF"/><circle cx="779.4" cy="61.1" r="5.6" fill="#0000FF"/><circle cx="832.5" cy="59.0" r="5.6" fill="#0000FF"/><circle cx="850.3" cy="52.6" r="5.6" fill="#0000FF"/><circle cx="857.0" cy="91.9" r="5.6" fill="#0000FF"/><circle cx="859.1" cy="60.4" r="5.6" fill="#0000FF"/><circle cx="878.7" cy="63.5" r="5.6" fill="#0000FF"/><circle cx="896.8" cy="55.7" r="5.6" fill="#0000FF"/><circle cx="932.1" cy="52.6" r="5.6" fill="#0000FF"/><circle cx="976.2" cy="59.9" r="5.6" fill="#0000FF"/><circle cx="980.7" cy="64.0" r="5.6" fill="#0000FF"/><circle cx="987.4" cy="53.2" r="5.6" fill="#0000FF"/><circle cx="1000.6" cy="59.9" r="5.6" fill="#0000FF"/><circle cx="1031.4" cy="56.2" r="5.6" fill="#0000FF"/><circle cx="1035.9" cy="53.5" r="5.6" fill="#0000FF"/><circle cx="1042.6" cy="63.5" r="5.6" fill="#0000FF"/><circle cx="1049.1" cy="57.1" r="5.6" fill="#0000FF"/><circle cx="1077.9" cy="61.7" r="5.6" fill="#0000FF"/><circle cx="1084.8" cy="70.7" r="5.6" fill="#0000FF"/><circle cx="1126.7" cy="53.9" r="5.6" fill="#0000FF"/><circle cx="1146.7" cy="53.9" r="5.6" fill="#0000FF"/><circle cx="1173.3" cy="59.9" r="5.6" fill="#0000FF"/><circle cx="1223.9" cy="61.7" r="5.6" fill="#0000FF"/><circle cx="1233.0" cy="46.8" r="5.6" fill="#0000FF"/><circle cx="1239.3" cy="65.7" r="5.6" fill="#0000FF"/><circle cx="1279.0" cy="56.5" r="5.6" fill="#0000FF"/><circle cx="1283.5" cy="63.7" r="5.6" fill="#0000FF"/><circle cx="1292.3" cy="58.7" r="5.6" fill="#0000FF"/><circle cx="1296.1" cy="61.5" r="5.6" fill="#0000FF"/><circle cx="1297.1" cy="68.1" r="5.6" fill="#0000FF"/><circle cx="1312.5" cy="60.7" r="5.6" fill="#0000FF"/><circle cx="1314.7" cy="54.0" r="5.6" fill="#0000FF"/><circle cx="1318.7" cy="74.8" r="5.6" fill="#0000FF"/><circle cx="1321.2" cy="104.0" r="5.6" fill="#0000FF"/><circle cx="1323.5" cy="62.2" r="5.6" fill="#0000FF"/><circle cx="1332.5" cy="77.2" r="5.6" fill="#0000FF"/><circle cx="1338.8" cy="59.5" r="5.6" fill="#0000FF"/><circle cx="1343.3" cy="52.3" r="5.6" fill="#0000FF"/><circle cx="1348.2" cy="56.4" r="5.6" fill="#0000FF"/><circle cx="1356.5" cy="60.3" r="5.6" fill="#0000FF"/><circle cx="1385.4" cy="59.7" r="5.6" fill="#0000FF"/><circle cx="1389.5" cy="66.3" r="5.6" fill="#0000FF"/><circle cx="1394.0" cy="61.5" r="5.6" fill="#0000FF"/><circle cx="1396.5" cy="76.7" r="5.6" fill="#0000FF"/><circle cx="1399.5" cy="61.8" r="5.6" fill="#0000FF"/><circle cx="1405.3" cy="62.7" r="5.6" fill="#0000FF"/><circle cx="1420.7" cy="58.1" r="5.6" fill="#0000FF"/><circle cx="1431.9" cy="80.7" r="5.6" fill="#0000FF"/><circle cx="1445.1" cy="52.1" r="5.6" fill="#0000FF"/><circle cx="1451.8" cy="66.2" r="5.6" fill="#0000FF"/><circle cx="1478.2" cy="79.2" r="5.6" fill="#0000FF"/><circle cx="1495.8" cy="53.2" r="5.6" fill="#0000FF"/><circle cx="1509.4" cy="54.0" r="5.6" fill="#0000FF"/><circle cx="1533.9" cy="66.2" r="5.6" fill="#0000FF"/><circle cx="1535.7" cy="71.3" r="5.6" fill="#0000FF"/><circle cx="1542.4" cy="53.9" r="5.6" fill="#0000FF"/><circle cx="1545.3" cy="60.4" r="5.6" fill="#0000FF"/><circle cx="1555.9" cy="59.9" r="5.6" fill="#0000FF"/><circle cx="1595.4" cy="58.6" r="5.6" fill="#0000FF"/><circle cx="1604.5" cy="56.2" r="5.6" fill="#0000FF"/><circle cx="1608.6" cy="63.5" r="5.6" fill="#0000FF"/><circle cx="1630.8" cy="66.2" r="5.6" fill="#0000FF"/><circle cx="1641.9" cy="51.0" r="5.6" fill="#0000FF"/><circle cx="1644.7" cy="47.8" r="5.6" fill="#0000FF"/><circle cx="1648.6" cy="61.6" r="5.6" fill="#0000FF"/><circle cx="1653.2" cy="83.3" r="5.6" fill="#0000FF"/><circle cx="1656.0" cy="67.5" r="5.6" fill="#0000FF"/><circle cx="1661.0" cy="60.8" r="5.6" fill="#0000FF"/><circle cx="1662.5" cy="66.0" r="5.6" fill="#0000FF"/></g>
<rect x="1687" y="194.6" width="24" height="72" fill="#F2F2F2"/>
<line x1="1689" x2="1709" y1="206.9" y2="206.9" stroke="#0000FF" stroke-width="2.8"/>
<circle cx="1699" cy="206.9" r="5.7" fill="#0000FF"/>
<text x="1719.6" y="211.20" font-size="13" fill="#000" textLength="27.3" lengthAdjust="spacingAndGlyphs">NDVI</text>
<line x1="1689" x2="1709" y1="230.95000000000002" y2="230.95000000000002" stroke="#006400" stroke-width="2.8"/>
<circle cx="1699" cy="230.95000000000002" r="5.7" fill="#006400"/>
<text x="1719.6" y="235.25" font-size="13" fill="#000" textLength="37.9" lengthAdjust="spacingAndGlyphs">SWIR2</text>
<line x1="1689" x2="1709" y1="255.0" y2="255.0" stroke="#FF0000" stroke-width="2.8"/>
<circle cx="1699" cy="255.0" r="5.7" fill="#FF0000"/>
<text x="1719.6" y="259.30" font-size="13" fill="#000" textLength="36.9" lengthAdjust="spacingAndGlyphs">SWIR1</text>
</svg></div></body></html>
